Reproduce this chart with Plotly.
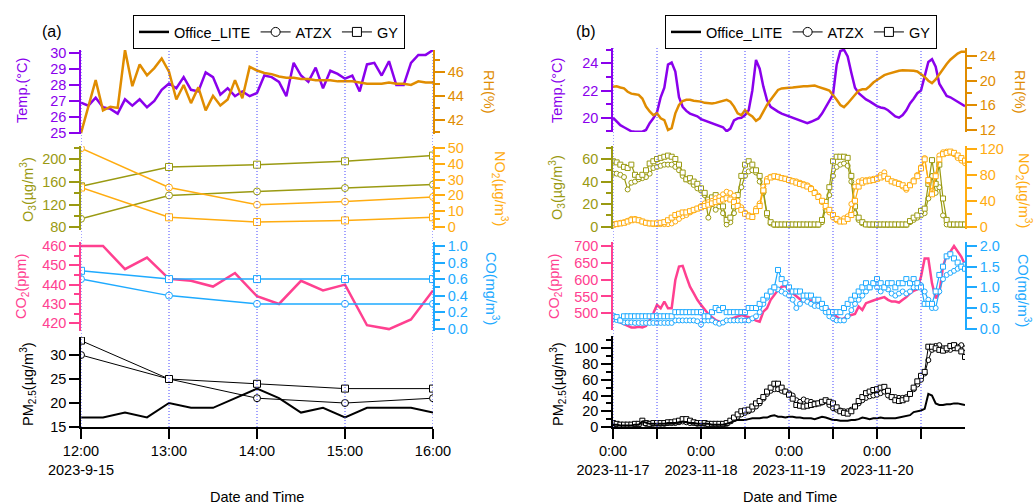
import plotly.graph_objects as go
import pandas as pd

W, H = 1036, 504
FONT = "Liberation Sans, Arial, sans-serif"
FS = 14.5

# ---------------- panel (a): 2023-09-15 12:00-16:00 ----------------
t_a5 = pd.date_range("2023-09-15 12:00", "2023-09-15 16:00", freq="5min")
t_a15 = pd.date_range("2023-09-15 12:00", "2023-09-15 16:00", freq="15min")
t_a60 = pd.date_range("2023-09-15 12:00", "2023-09-15 16:00", freq="h")

temp_a = [26.9, 26.7, 27.2, 26.6, 26.5, 26.2, 27.1, 26.7, 27.1, 26.6, 27.0, 27.7, 28.1,
          27.8, 28.5, 27.7, 27.6, 28.8, 28.5, 27.4, 27.8, 27.3, 27.6, 27.3, 27.5, 28.6,
          28.5, 28.2, 27.3, 29.4, 28.6, 28.2, 29.1, 27.8, 28.9, 28.7, 28.4, 28.6, 27.6,
          29.3, 29.4, 28.6, 29.5, 28.0, 28.0, 29.4, 29.9, 29.9, 30.2]
rh_a = [40.9, 43.1, 45.3, 42.8, 43.1, 43.0, 47.8, 44.8, 46.6, 45.7, 46.3, 47.1, 46.0,
        43.7, 44.9, 43.4, 44.7, 42.8, 44.0, 43.2, 43.7, 45.3, 43.8, 46.4, 46.1, 45.9,
        45.8, 45.6, 45.5, 45.5, 45.4, 45.4, 45.3, 45.3, 45.3, 45.2, 45.2, 45.2, 45.1,
        45.0, 45.0, 45.0, 45.1, 45.0, 45.0, 44.9, 45.2, 45.1, 45.1]
co2_a = [460, 460, 448, 454, 443, 442, 439, 446, 434, 430, 442, 437, 440, 419, 417, 422, 437]
pm_office_a = [17, 17, 18, 17, 20, 19, 19, 21, 23, 21, 18, 19, 17, 19, 19, 19, 18]

o3_atzx_a = [95, 136, 143, 149, 155]
o3_gy_a = [152, 186, 190, 196, 206]
no2_atzx_a = [50, 25, 14, 16, 19]
no2_gy_a = [25, 6, 3, 4, 6]
co_atzx_a = [0.6, 0.4, 0.3, 0.3, 0.3]
co_gy_a = [0.7, 0.6, 0.6, 0.6, 0.6]
pm_atzx_a = [30, 25, 21, 20, 21]
pm_gy_a = [33, 25, 24, 23, 23]

xticks_a = ["12:00<br>2023-9-15", "13:00", "14:00", "15:00", "16:00"]

# ---------------- panel (b): 2023-11-17 to 2023-11-21, hourly ----------------
t_b = pd.date_range("2023-11-17 00:00", "2023-11-21 00:00", freq="h")

temp_b = [20.0, 19.7, 19.45, 19.3, 19.15, 19.0, 18.97, 18.97, 18.97, 19.1,
          19.6, 19.95, 20.4, 21.5, 22.2, 23.9, 24.05, 23.4, 21.5, 20.8,
          20.5, 20.3, 20.2, 20.1, 19.9, 19.8, 19.75, 19.6, 19.5, 19.4,
          19.3, 19.0, 19.2, 19.8, 19.95, 20.0, 20.2, 20.55, 22.0, 24.25,
          23.6, 22.3, 21.3, 20.8, 20.6, 20.45, 20.3, 20.2, 20.1, 19.95,
          19.9, 19.8, 19.7, 19.6, 19.7, 19.8, 19.95, 20.3, 20.75, 21.2,
          21.7, 23.9, 24.9, 25.0, 24.5, 23.3, 22.2, 21.8, 21.55, 21.35,
          21.2, 21.0, 20.85, 20.75, 20.7, 20.55, 20.3, 20.1, 20.0, 20.2,
          20.55, 21.05, 21.4, 21.8, 22.0, 23.0, 24.1, 24.3, 23.75, 22.5,
          22.0, 21.6, 21.5, 21.35, 21.2, 21.05, 20.85]
rh_b = [19.0, 19.1, 18.9, 18.75, 18.2, 17.9, 17.8, 17.7, 17.1, 15.8,
        15.0, 14.4, 14.7, 13.9, 13.6, 12.0, 12.3, 14.7, 16.05, 16.7,
        16.9, 16.9, 16.75, 16.7, 16.6, 16.4, 16.3, 16.3, 16.4, 16.6,
        16.7, 16.9, 16.6, 15.8, 14.7, 14.4, 15.2, 14.6, 14.2, 13.5,
        13.9, 15.0, 16.05, 16.9, 17.8, 18.5, 18.75, 18.85, 18.85, 18.9,
        19.0, 19.0, 19.1, 19.1, 19.2, 19.2, 19.0, 18.75, 18.6, 18.4,
        17.7, 16.9, 16.05, 15.7, 16.3, 17.0, 17.7, 18.4, 18.6, 18.6,
        19.1, 19.7, 20.1, 20.5, 20.9, 21.1, 21.3, 21.5, 21.6, 21.7,
        21.7, 21.6, 21.6, 21.5, 21.1, 20.6, 20.0, 19.6, 20.2, 21.1,
        22.0, 22.7, 23.4, 23.9, 24.4, 24.7, 24.7]
o3_atzx_b = [47, 47, 46, 44, 33, 39, 40, 42, 43, 44,
             47, 52, 53, 54, 55, 55, 55, 53, 50, 45,
             42, 40, 37, 34, 32, 28, 8, 20, 15, 18,
             12, 2, 4, 12, 20, 35, 45, 49, 50, 48,
             40, 30, 10, 3, 1.5, 1.5, 1.5, 1.5, 1.5, 1.5,
             1.5, 1.5, 1.5, 1.5, 1.5, 1.5, 1.5, 4, 15, 28,
             45, 53, 55, 56, 54, 40, 12, 6, 3, 2,
             1.5, 1.5, 1.5, 1.5, 1.5, 1.5, 1.5, 1.5, 1.5, 1.5,
             1.5, 4, 6, 8, 10, 12, 25, 45, 30, 35,
             10, 2, 1.5, 1.5, 1.5, 1.5, 1.5]
o3_gy_b = [58, 57, 55, 53, 52, 55, 46, 44, 46, 50,
           56, 58, 60, 61, 62, 63, 62, 60, 55, 48,
           42, 43, 40, 38, 34, 30, 24, 26, 28, 22,
           18, 6, 8, 18, 28, 45, 55, 58, 55, 50,
           45, 32, 12, 4, 2, 2, 2, 2, 2, 2,
           2, 2, 2, 2, 2, 2, 2, 6, 22, 35,
           58, 62, 62, 62, 61, 45, 18, 8, 4, 2,
           2, 2, 2, 2, 2, 2, 2, 2, 2, 2,
           2, 5, 8, 10, 14, 16, 38, 59, 38, 55,
           25, 6, 2, 2, 2, 2, 2]
no2_atzx_b = [4, 5, 6, 7, 9, 12, 12, 10, 8, 6,
              5, 4, 4, 4, 4, 4, 5, 8, 12, 16,
              18, 22, 25, 28, 32, 36, 38, 40, 44, 46,
              50, 54, 52, 48, 40, 30, 22, 18, 16, 28,
              36, 62, 74, 77, 77, 76, 75, 74, 72, 71,
              70, 68, 66, 64, 60, 54, 48, 38, 30, 22,
              14, 10, 10, 13, 16, 35, 62, 70, 72, 72,
              73, 74, 75, 80, 84, 74, 70, 69, 67, 62,
              57, 65, 72, 80, 92, 106, 70, 55, 80, 110,
              115, 116, 114, 112, 106, 102, 98]
no2_gy_b = [3, 4, 5, 6, 8, 10, 11, 10, 8, 6,
            5, 5, 5, 6, 7, 10, 14, 18, 20, 22,
            22, 24, 26, 28, 30, 32, 34, 36, 38, 40,
            42, 44, 42, 38, 32, 26, 20, 16, 15, 24,
            32, 56, 70, 76, 78, 77, 75, 74, 72, 70,
            68, 66, 64, 62, 58, 52, 46, 40, 32, 26,
            18, 12, 8, 8, 12, 18, 40, 62, 68, 70,
            71, 72, 74, 76, 78, 74, 70, 68, 66, 64,
            60, 64, 70, 78, 90, 104, 72, 50, 78, 104,
            112, 114, 116, 114, 110, 106, 102]
co2_b = [490, 482, 473, 468, 462, 458, 458, 460, 458, 462,
         480, 500, 525, 515, 535, 515, 515, 599, 639, 641,
         609, 579, 560, 540, 525, 510, 498, 488, 480, 475,
         470, 478, 482, 488, 492, 495, 492, 488, 485, 478,
         475, 505, 515, 540, 554, 569, 579, 581, 569, 559,
         550, 542, 535, 538, 538, 538, 530, 525, 520, 510,
         505, 490, 482, 485, 492, 495, 498, 520, 510, 530,
         535, 538, 542, 545, 548, 540, 535, 535, 532, 540,
         548, 559, 567, 571, 609, 663, 663, 589, 545, 559,
         639, 673, 683, 700, 683, 668, 644]
co_atzx_b = [0.22, 0.21, 0.2, 0.15, 0.15, 0.15, 0.14, 0.14, 0.14, 0.14,
             0.14, 0.14, 0.14, 0.14, 0.14, 0.14, 0.14, 0.2, 0.2, 0.2,
             0.2, 0.2, 0.2, 0.18, 0.1, 0.2, 0.2, 0.2, 0.15, 0.12,
             0.15, 0.2, 0.2, 0.2, 0.2, 0.2, 0.2, 0.2, 0.25, 0.3,
             0.4, 0.6, 0.75, 0.9, 1.0, 0.95, 0.9, 0.85, 0.8, 0.7,
             0.5, 0.6, 0.7, 0.65, 0.6, 0.55, 0.55, 0.5, 0.4, 0.3,
             0.25, 0.2, 0.2, 0.2, 0.3, 0.45, 0.6, 0.7, 0.8, 0.9,
             1.0, 1.1, 1.0, 0.9, 1.0, 0.95, 0.85, 0.8, 0.85, 0.9,
             0.85, 0.9, 1.0, 1.0, 1.05, 0.9, 0.7, 0.5, 0.5, 0.9,
             1.2, 1.3, 1.35, 1.4, 1.45, 1.5, 1.55]
co_gy_b = [0.3, 0.28, 0.2, 0.3, 0.3, 0.3, 0.3, 0.3, 0.3, 0.3,
           0.3, 0.3, 0.3, 0.3, 0.3, 0.3, 0.3, 0.4, 0.4, 0.4,
           0.4, 0.4, 0.4, 0.4, 0.4, 0.3, 0.3, 0.4, 0.5, 0.45,
           0.5, 0.4, 0.4, 0.4, 0.4, 0.4, 0.4, 0.5, 0.5, 0.5,
           0.6, 0.7, 0.8, 0.9, 1.0, 1.42, 1.2, 1.1, 1.0, 0.9,
           0.9, 0.9, 0.8, 0.8, 0.8, 0.7, 0.7, 0.6, 0.5, 0.4,
           0.4, 0.4, 0.4, 0.5, 0.6, 0.7, 0.8, 0.9, 1.0, 1.1,
           1.0, 1.1, 1.2, 1.1, 1.0, 1.1, 1.1, 1.0, 1.1, 1.1,
           1.2, 1.1, 1.2, 1.1, 1.0, 0.6, 0.6, 0.6, 0.9, 1.3,
           1.5, 1.75, 1.8, 1.7, 1.6, 1.5, 1.45]
pm_office_b = [3, 3, 2, 2, 2, 2, 3, 3, 7, 5,
               4, 4, 4, 4, 4, 5, 5, 5, 6, 7,
               6, 5, 5, 4, 4, 4, 4, 3, 3, 3,
               3, 4, 6, 8, 9, 9, 9, 10, 11, 11,
               11, 12, 12, 14, 15, 13, 13, 12, 13, 13,
               12, 12, 11, 11, 11, 10, 12, 13, 12, 10,
               9, 9, 8, 8, 8, 9, 9, 10, 12, 11,
               10, 11, 11, 12, 11, 11, 11, 11, 12, 13,
               14, 15, 19, 20, 21, 23, 42, 40, 30, 28,
               28, 29, 29, 30, 30, 29, 28]
pm_atzx_b = [5, 3, 2, 2, 2, 2, 3, 3, 6, 4,
             4, 4, 4, 4, 4, 5, 5, 5, 6, 7,
             6, 5, 5, 4, 4, 4, 3, 3, 3, 3,
             3, 4, 7, 10, 13, 16, 18, 20, 22, 26,
             30, 36, 42, 46, 48, 48, 46, 45, 43, 40,
             34, 32, 35, 33, 32, 30, 30, 31, 33, 28,
             24, 22, 21, 20, 20, 22, 26, 30, 34, 37,
             39, 40, 41, 43, 45, 40, 38, 38, 37, 37,
             38, 42, 48, 54, 60, 68, 85, 98, 103, 104,
             100, 98, 98, 100, 102, 104, 100]
pm_gy_b = [5, 4, 3, 3, 3, 3, 4, 4, 8, 5,
           4, 5, 5, 5, 5, 6, 6, 7, 8, 10,
           10, 8, 6, 5, 5, 5, 4, 4, 4, 4,
           4, 5, 8, 12, 16, 20, 21, 22, 26, 30,
           33, 38, 45, 50, 55, 55, 50, 45, 41, 36,
           28, 27, 26, 27, 28, 29, 30, 32, 34, 32,
           30, 25, 20, 18, 17, 20, 26, 33, 38, 43,
           45, 47, 48, 50, 51, 46, 38, 34, 33, 34,
           36, 42, 50, 58, 65, 70, 102, 102, 100, 98,
           97, 100, 103, 104, 100, 96, 89]

xticks_b = ["0:00<br>2023-11-17", " ", "0:00<br>2023-11-18", " ",
            "0:00<br>2023-11-19", " ", "0:00<br>2023-11-20", " "]

# ---------------- styling ----------------
C_T = "#8A00EC"
C_RH = "#E08C00"
C_O3 = "#9A9A12"
C_NO2 = "#FFAC10"
C_CO2 = "#FF4090"
C_CO = "#1EAAFF"
C_PM = "#000000"
C_GUIDE = "#4646FF"


def pdom(top, bot):
    return [1 - bot / H, 1 - top / H]


def prange(v1, p1, v2, p2, top, bot):
    k = (v1 - v2) / (p1 - p2)
    return [v1 + (bot - p1) * k, v1 + (top - p1) * k]


def yax(color, side, anchor, top, bot, ref, dtick, minor=None, fmt=None):
    d = dict(domain=pdom(top, bot), range=prange(*ref, top, bot), side=side,
             anchor=anchor, showline=True, linecolor=color, linewidth=1.5,
             ticks="outside", ticklen=10, tickwidth=1.5, tickcolor=color,
             tickfont=dict(color=color, size=FS, family=FONT), showgrid=False,
             zeroline=False, tickmode="linear", tick0=0, dtick=dtick,
             fixedrange=True, automargin=False)
    if minor:
        d["minor"] = dict(ticks="outside", ticklen=5, tickwidth=1.5, tickcolor=color,
                          dtick=minor, tick0=0, showgrid=False)
    if fmt:
        d["tickformat"] = fmt
    return d


def guide_axis(anchor, top, bot):
    return dict(domain=pdom(top, bot), range=[0, 1], anchor=anchor, visible=False,
                showgrid=False, zeroline=False, fixedrange=True)


fig = go.Figure()


def add_guides(times, xa, ya):
    # one trace per guide so every line is styled identically
    for t in times:
        fig.add_trace(go.Scatter(x=[t, t], y=[0, 1], mode="lines", xaxis=xa, yaxis=ya,
                                 line=dict(color=C_GUIDE, width=1, dash="1px,2px"),
                                 showlegend=False, hoverinfo="skip", cliponaxis=False))


def add_line(x, y, xa, ya, color, width):
    fig.add_trace(go.Scatter(x=x, y=y, mode="lines", xaxis=xa, yaxis=ya,
                             line=dict(color=color, width=width),
                             showlegend=False, hoverinfo="skip"))


def add_marked(x, y, xa, ya, color, symbol, size=6, width=1.5):
    fig.add_trace(go.Scatter(x=x, y=y, mode="lines+markers", xaxis=xa, yaxis=ya,
                             line=dict(color=color, width=width),
                             marker=dict(symbol=symbol, size=size, color="white",
                                         line=dict(color=color, width=1)),
                             showlegend=False, hoverinfo="skip"))


# dotted time guides
add_guides(t_a60, "x", "y15")
add_guides(t_b[0:96:12], "x2", "y16")

# panel (a) traces
add_line(t_a5, temp_a, "x", "y", C_T, 2.5)
add_line(t_a5, rh_a, "x", "y2", C_RH, 2.5)
add_marked(t_a60, o3_atzx_a, "x", "y3", C_O3, "circle", 7)
add_marked(t_a60, o3_gy_a, "x", "y3", C_O3, "square", 7)
add_marked(t_a60, no2_atzx_a, "x", "y4", C_NO2, "circle", 7)
add_marked(t_a60, no2_gy_a, "x", "y4", C_NO2, "square", 7)
add_marked(t_a60, co_atzx_a, "x", "y6", C_CO, "circle", 7)
add_marked(t_a60, co_gy_a, "x", "y6", C_CO, "square", 7)
add_line(t_a15, co2_a, "x", "y5", C_CO2, 2.5)
add_line(t_a15, pm_office_a, "x", "y7", C_PM, 2)
add_marked(t_a60, pm_atzx_a, "x", "y7", C_PM, "circle", 7, 1)
add_marked(t_a60, pm_gy_a, "x", "y7", C_PM, "square", 7, 1)

# panel (b) traces
add_line(t_b, temp_b, "x2", "y8", C_T, 2.5)
add_line(t_b, rh_b, "x2", "y9", C_RH, 2.5)
add_marked(t_b, o3_atzx_b, "x2", "y10", C_O3, "circle", 5, 1.2)
add_marked(t_b, o3_gy_b, "x2", "y10", C_O3, "square", 5, 1.2)
add_marked(t_b, no2_atzx_b, "x2", "y11", C_NO2, "circle", 5, 1.2)
add_marked(t_b, no2_gy_b, "x2", "y11", C_NO2, "square", 5, 1.2)
add_marked(t_b, co_atzx_b, "x2", "y13", C_CO, "circle", 5, 1.2)
add_marked(t_b, co_gy_b, "x2", "y13", C_CO, "square", 5, 1.2)
add_line(t_b, co2_b, "x2", "y12", C_CO2, 2.5)
add_marked(t_b, pm_atzx_b, "x2", "y14", C_PM, "circle", 5, 1)
add_marked(t_b, pm_gy_b, "x2", "y14", C_PM, "square", 5, 1)
add_line(t_b, pm_office_b, "x2", "y14", C_PM, 2)

# legend entries (one set per panel)
for lg in ("legend", "legend2"):
    fig.add_trace(go.Scatter(x=[None], y=[None], mode="lines", name="Office_LITE",
                             line=dict(color="black", width=2.5), legend=lg))
    fig.add_trace(go.Scatter(x=[None], y=[None], mode="lines+markers", name="ATZX",
                             line=dict(color="black", width=1),
                             marker=dict(symbol="circle", size=9, color="white",
                                         line=dict(color="black", width=1)), legend=lg))
    fig.add_trace(go.Scatter(x=[None], y=[None], mode="lines+markers", name="GY",
                             line=dict(color="black", width=1),
                             marker=dict(symbol="square", size=9, color="white",
                                         line=dict(color="black", width=1)), legend=lg))

xa_common = dict(type="date", showline=True, linecolor="black", linewidth=1.5,
                 ticks="outside", ticklen=10, tickwidth=1.5, tickcolor="black",
                 tickfont=dict(size=FS, color="black", family=FONT),
                 showgrid=False, zeroline=False, tickmode="array", fixedrange=True,
                 automargin=False)

legend_common = dict(y=1 - 15 / H, xanchor="left", yanchor="top", orientation="h",
                     bordercolor="black", borderwidth=1, bgcolor="white",
                     font=dict(size=FS, color="black", family=FONT), itemwidth=30)

layout = dict(
    width=W, height=H, autosize=False,
    margin=dict(l=0, r=0, t=0, b=0, autoexpand=False),
    paper_bgcolor="white", plot_bgcolor="rgba(0,0,0,0)",
    font=dict(family=FONT, size=FS, color="black"),
    xaxis=dict(xa_common, domain=[81 / W, 433 / W], anchor="y7",
               range=[t_a60[0], t_a60[-1]], tickvals=list(t_a60), ticktext=xticks_a),
    xaxis2=dict(xa_common, domain=[613 / W, 965 / W], anchor="y14",
                range=[t_b[0], t_b[-1]], tickvals=list(t_b[0:96:12]), ticktext=xticks_b),
    # panel (a)
    yaxis=yax(C_T, "left", "x", 50, 134, (30, 53.3, 25, 132.7), 1),
    yaxis2=yax(C_RH, "right", "x", 50, 134, (46, 71.7, 42, 120), 2, 1),
    yaxis3=yax(C_O3, "left", "x", 146, 230, (200, 159, 80, 227.3), 40, 20),
    yaxis4=yax(C_NO2, "right", "x", 146, 230, (50, 148.3, 0, 226.7), 10, 5),
    yaxis5=yax(C_CO2, "left", "x", 242, 331, (460, 246, 420, 323.3), 10, 5),
    yaxis6=yax(C_CO, "right", "x", 242, 331, (1.0, 246, 0.0, 328.7), 0.2, 0.1, ".1f"),
    yaxis7=yax(C_PM, "left", "x", 337, 427, (30, 355, 15, 427), 5),
    # panel (b)
    yaxis8=yax(C_T, "left", "x2", 48, 132, (24, 63.3, 20, 117.7), 2, 1),
    yaxis9=yax(C_RH, "right", "x2", 48, 132, (24, 56, 12, 130), 4, 2),
    yaxis10=yax(C_O3, "left", "x2", 146, 229, (60, 159, 0, 226.7), 20, 10),
    yaxis11=yax(C_NO2, "right", "x2", 146, 229, (120, 149, 0, 226.7), 40, 20),
    yaxis12=yax(C_CO2, "left", "x2", 242, 330, (700, 246, 500, 313.3), 50),
    yaxis13=yax(C_CO, "right", "x2", 242, 330, (2.0, 246, 0.0, 328.7), 0.5, 0.25, ".1f"),
    yaxis14=yax(C_PM, "left", "x2", 336, 427, (100, 348.3, 0, 427), 20, 10),
    # full-height axes carrying the time guides
    yaxis15=guide_axis("x", 50, 427),
    yaxis16=guide_axis("x2", 48, 427),
    legend=dict(legend_common, x=133 / W),
    legend2=dict(legend_common, x=665 / W),
    showlegend=True,
)
fig.update_layout(**layout)


# axis titles and panel labels
def ann(text, px, py, color="black", angle=0, size=FS):
    return dict(text=text, x=px / W, y=1 - py / H, xref="paper", yref="paper",
                showarrow=False, xanchor="center", yanchor="middle", textangle=angle,
                font=dict(color=color, size=size, family=FONT))


annotations = [
    ann("(a)", 52, 31, size=16), ann("(b)", 586, 31, size=16),
    ann("Temp.(°C)", 22, 91, C_T, -90), ann("RH(%)", 489, 92, C_RH, 90),
    ann("O<sub>3</sub>(µg/m<sup>3</sup>)", 28, 190, C_O3, -90),
    ann("NO<sub>2</sub>(µg/m<sup>3</sup>)", 500, 188, C_NO2, 90),
    ann("CO<sub>2</sub>(ppm)", 22, 287, C_CO2, -90),
    ann("CO(mg/m<sup>3</sup>)", 492, 288, C_CO, 90),
    ann("PM<sub>2.5</sub>(µg/m<sup>3</sup>)", 28, 384, C_PM, -90),
    ann("Temp.(°C)", 557, 91, C_T, -90), ann("RH(%)", 1020, 92, C_RH, 90),
    ann("O<sub>3</sub>(µg/m<sup>3</sup>)", 557, 188, C_O3, -90),
    ann("NO<sub>2</sub>(µg/m<sup>3</sup>)", 1024, 190, C_NO2, 90),
    ann("CO<sub>2</sub>(ppm)", 555, 287, C_CO2, -90),
    ann("CO(mg/m<sup>3</sup>)", 1024, 290, C_CO, 90),
    ann("PM<sub>2.5</sub>(µg/m<sup>3</sup>)", 558, 384, C_PM, -90),
    ann("Date and Time", 257, 497), ann("Date and Time", 790, 497),
]
fig.update_layout(annotations=annotations)

fig.write_html("out.html")
